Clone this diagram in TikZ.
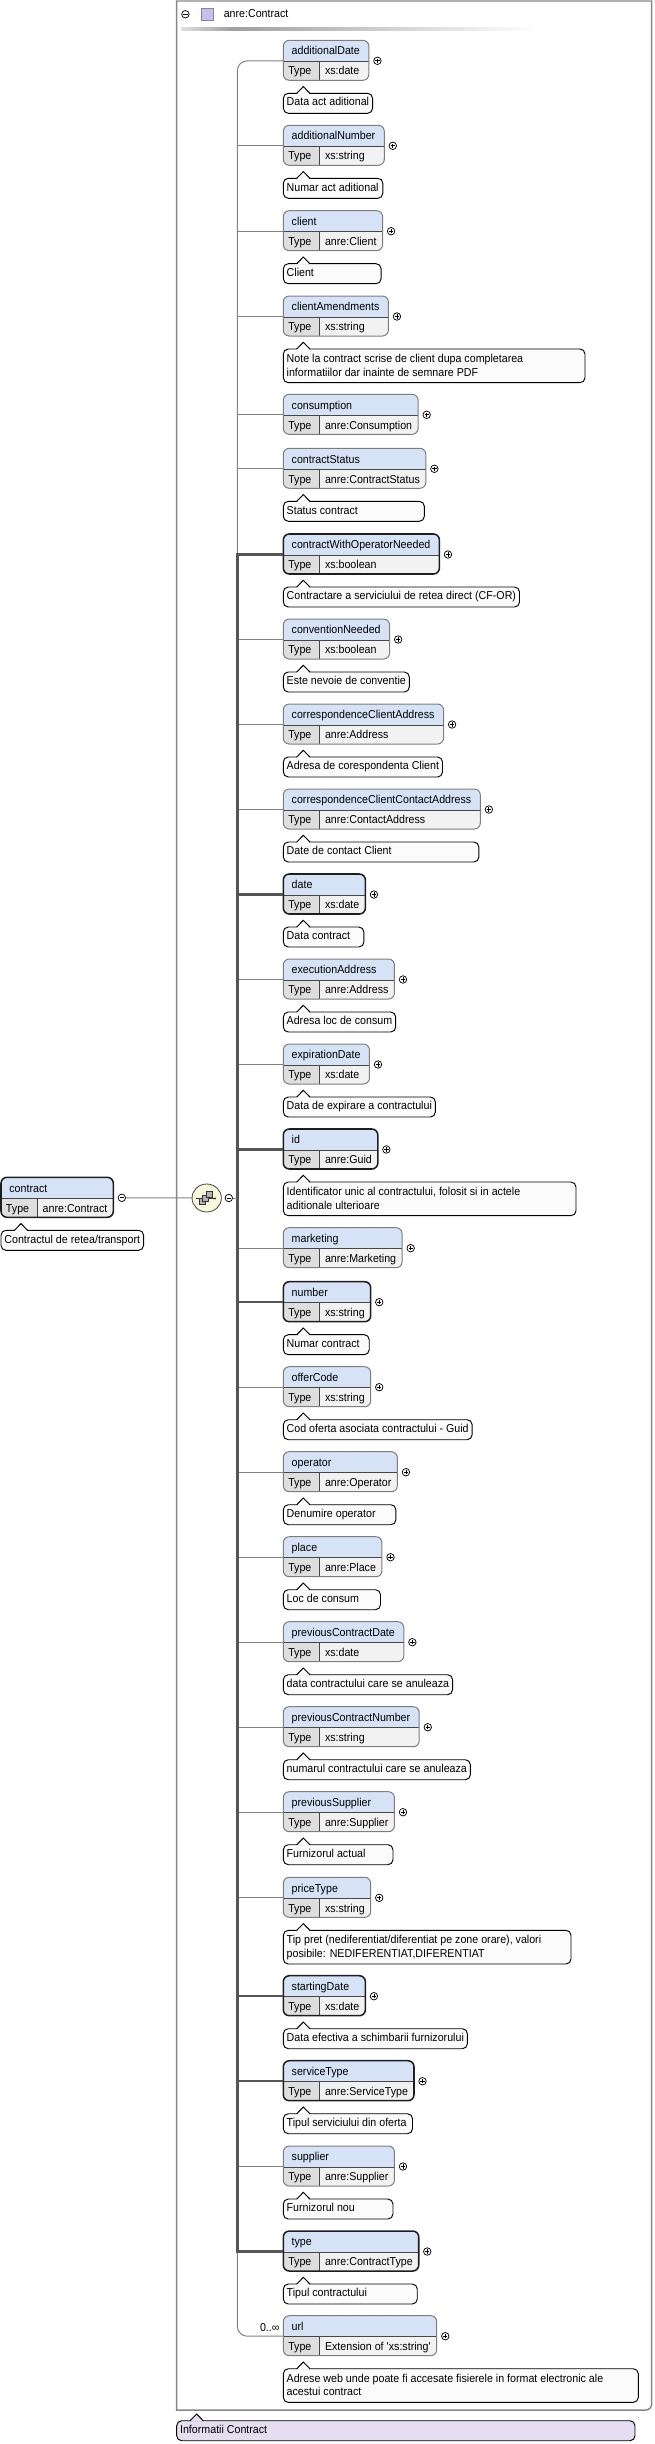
\documentclass[tikz,border=0pt]{standalone}
\usepackage{fontspec}
\setmainfont{Liberation Sans}[FakeStretch=0.93]
\usetikzlibrary{calc,shapes.geometric}
\pgfdeclarelayer{bg}
\pgfsetlayers{bg,main}
\definecolor{hdrc}{RGB}{214,227,247}
\definecolor{typec}{RGB}{222,222,222}
\definecolor{valc}{RGB}{242,242,242}
\definecolor{docc}{RGB}{251,251,251}
\definecolor{optc}{RGB}{125,125,125}
\definecolor{reqc}{RGB}{30,30,30}
\definecolor{sepc}{RGB}{70,70,70}
\definecolor{trunkc}{RGB}{130,130,130}
\definecolor{thickc}{RGB}{85,85,85}
\definecolor{infoc}{RGB}{228,222,240}
\definecolor{seqc}{RGB}{248,248,220}
\definecolor{contc}{RGB}{135,135,135}
\definecolor{sqf}{RGB}{200,190,232}
\definecolor{sqb}{RGB}{140,125,180}
\tikzset{
  txt/.style={inner sep=0pt, outer sep=0pt, anchor=base west, font=\fontsize{8.6}{10}\selectfont},
  optbox/.style={draw=optc, line width=0.75pt},
  reqbox/.style={draw=reqc, line width=1.15pt},
  sepline/.style={draw=sepc, line width=0.6pt},
  docbox/.style={draw=black, line width=0.7pt, rounded corners=3.75pt},
  docline/.style={draw=black, line width=0.7pt},
  thinl/.style={draw=trunkc, line width=0.75pt},
  thickl/.style={draw=thickc, line width=1.9pt},
  pmc/.style={circle, draw=black, fill=white, line width=0.55pt, minimum size=5.6pt, inner sep=0pt},
  plusn/.style={pmc, path picture={\draw[line width=0.55pt] ([xshift=-1.6pt]path picture bounding box.center) -- ([xshift=1.6pt]path picture bounding box.center) ([yshift=-1.6pt]path picture bounding box.center) -- ([yshift=1.6pt]path picture bounding box.center);}},
  minusn/.style={pmc, path picture={\draw[line width=0.55pt] ([xshift=-1.6pt]path picture bounding box.center) -- ([xshift=1.6pt]path picture bounding box.center);}},
  sqi/.style={fill=gray!60, draw=black!80, line width=0.45pt},
}
% element: id, left, top, name, type, box style, circle style
\newcommand{\elem}[7]{%
  \node[txt] (n#1) at (#2+8.4,#3+14.7) {#4};
  \node[txt] (t#1) at (#2+5,#3+34.7) {Type};
  \node[txt] (v#1) at (#2+41.7,#3+34.7) {#5};
  \coordinate (tl#1) at (#2,#3);
  \coordinate (hl#1) at (#2,#3+21);
  \coordinate (bl#1) at (#2,#3+40);
  \coordinate (sp#1) at (#2+36,#3+21);
  \coordinate (c#1) at (#2,#3+20.5);
  \path let \p1=(n#1.east), \p2=(v#1.east) in ({max(\x1+6.75pt,\x2+4.5pt)},0pt) coordinate (r#1);
  \begin{pgfonlayer}{bg}
    \begin{scope}
      \clip[rounded corners=4.5pt] (tl#1) rectangle (r#1 |- bl#1);
      \fill[hdrc] (tl#1) rectangle (r#1 |- hl#1);
      \fill[typec] (hl#1) rectangle (sp#1 |- bl#1);
      \fill[valc] (sp#1) rectangle (r#1 |- bl#1);
    \end{scope}
  \end{pgfonlayer}
  \draw[sepline] (hl#1) -- (r#1 |- hl#1);
  \draw[sepline] (sp#1) -- (sp#1 |- bl#1);
  \draw[#6, rounded corners=4.5pt] (tl#1) rectangle (r#1 |- bl#1);
  \node[#7] (p#1) at ($(r#1 |- c#1)+(6.4pt,0)$) {};
}
% doc shape: id, left, top, fill colour
\newcommand{\docshape}[4]{%
  \begin{pgfonlayer}{bg}
    \draw[docbox, fill=#4] (dt#1) rectangle (dr#1 |- db#1);
    \fill[#4] (#2+13.6,#3+0.8) -- (#2+20,#3-6.2) -- (#2+26.4,#3+0.8) -- cycle;
    \draw[docline] (#2+13.4,#3) -- (#2+20,#3-6.7) -- (#2+26.6,#3);
  \end{pgfonlayer}
}
% one-line doc: id, left, element top, text
\newcommand{\docA}[4]{%
  \node[txt] (d#1) at (#2+3.4,#3+65.7) {#4};
  \path let \p1=(d#1.east), \p2=(r#1) in ({max(\x1+2.6pt,\x2-1.1pt)},0pt) coordinate (dr#1);
  \coordinate (dt#1) at (#2,#3+53);
  \coordinate (db#1) at (#2,#3+73);
  \docshape{#1}{#2}{#3+53}{docc}
}
% two-line doc: id, left, element top, right, line1, line2
\newcommand{\docB}[6]{%
  \node[txt] (d#1) at (#2+3.4,#3+66.3) {#5};
  \node[txt] (e#1) at (#2+3.4,#3+80) {#6};
  \coordinate (dr#1) at (#4,0);
  \coordinate (dt#1) at (#2,#3+53);
  \coordinate (db#1) at (#2,#3+86.7);
  \docshape{#1}{#2}{#3+53}{docc}
}
\begin{document}
\begin{tikzpicture}[x=0.75pt,y=-0.75pt]
\useasboundingbox (0,0) rectangle (654,2444);
% container
\draw[draw=contc, line width=1.1pt] (176.7,2410) -- (176.7,1) -- (651.7,1) -- (651.7,2404) to[out=-90,in=0] (645.7,2410) -- cycle;
\node[minusn] (hm) at (185.4,14.3) {};
\node[draw=sqb, fill=sqf, line width=0.6pt, minimum size=9pt, inner sep=0pt] (hsq) at (207,14.5) {};
\node[txt] (ht) at (223.8,18) {anre:Contract};
\shade[left color=gray!25, right color=gray!75] (181,27.7) rectangle (232,30.3);
\shade[left color=gray!75, right color=white] (232,27.7) rectangle (536,30.3);

% elements
\def\L{283.3}
\elem{1}{\L}{40.3}{additionalDate}{xs:date}{optbox}{plusn}
\docA{1}{\L}{40.3}{Data act aditional}
\elem{2}{\L}{125.3}{additionalNumber}{xs:string}{optbox}{plusn}
\docA{2}{\L}{125.3}{Numar act aditional}
\elem{3}{\L}{210.7}{client}{anre:Client}{optbox}{plusn}
\docA{3}{\L}{210.7}{Client}
\elem{4}{\L}{296}{clientAmendments}{xs:string}{optbox}{plusn}
\docB{4}{\L}{296}{585}{Note la contract scrise de client dupa completarea}{informatiilor dar inainte de semnare PDF}
\elem{5}{\L}{394.3}{consumption}{anre:Consumption}{optbox}{plusn}
\elem{6}{\L}{448.3}{contractStatus}{anre:ContractStatus}{optbox}{plusn}
\docA{6}{\L}{448.3}{Status contract}
\elem{7}{\L}{534}{contractWithOperatorNeeded}{xs:boolean}{reqbox}{plusn}
\docA{7}{\L}{534}{Contractare a serviciului de retea direct (CF-OR)}
\elem{8}{\L}{619}{conventionNeeded}{xs:boolean}{optbox}{plusn}
\docA{8}{\L}{619}{Este nevoie de conventie}
\elem{9}{\L}{704}{correspondenceClientAddress}{anre:Address}{optbox}{plusn}
\docA{9}{\L}{704}{Adresa de corespondenta Client}
\elem{10}{\L}{789}{correspondenceClientContactAddress}{anre:ContactAddress}{optbox}{plusn}
\docA{10}{\L}{789}{Date de contact Client}
\elem{11}{\L}{874}{date}{xs:date}{reqbox}{plusn}
\docA{11}{\L}{874}{Data contract}
\elem{12}{\L}{959}{executionAddress}{anre:Address}{optbox}{plusn}
\docA{12}{\L}{959}{Adresa loc de consum}
\elem{13}{\L}{1044}{expirationDate}{xs:date}{optbox}{plusn}
\docA{13}{\L}{1044}{Data de expirare a contractului}
\elem{14}{\L}{1129}{id}{anre:Guid}{reqbox}{plusn}
\docB{14}{\L}{1129}{576}{Identificator unic al contractului, folosit si in actele}{aditionale ulterioare}
\elem{15}{\L}{1227.7}{marketing}{anre:Marketing}{optbox}{plusn}
\elem{16}{\L}{1281.7}{number}{xs:string}{reqbox}{plusn}
\docA{16}{\L}{1281.7}{Numar contract}
\elem{17}{\L}{1366.7}{offerCode}{xs:string}{optbox}{plusn}
\docA{17}{\L}{1366.7}{Cod oferta asociata contractului - Guid}
\elem{18}{\L}{1451.7}{operator}{anre:Operator}{optbox}{plusn}
\docA{18}{\L}{1451.7}{Denumire operator}
\elem{19}{\L}{1536.7}{place}{anre:Place}{optbox}{plusn}
\docA{19}{\L}{1536.7}{Loc de consum}
\elem{20}{\L}{1621.7}{previousContractDate}{xs:date}{optbox}{plusn}
\docA{20}{\L}{1621.7}{data contractului care se anuleaza}
\elem{21}{\L}{1706.7}{previousContractNumber}{xs:string}{optbox}{plusn}
\docA{21}{\L}{1706.7}{numarul contractului care se anuleaza}
\elem{22}{\L}{1791.7}{previousSupplier}{anre:Supplier}{optbox}{plusn}
\docA{22}{\L}{1791.7}{Furnizorul actual}
\elem{23}{\L}{1877.3}{priceType}{xs:string}{optbox}{plusn}
\docB{23}{\L}{1877.3}{571}{Tip pret (nediferentiat/diferentiat pe zone orare), valori}{posibile: NEDIFERENTIAT,DIFERENTIAT}
\elem{24}{\L}{1975.7}{startingDate}{xs:date}{reqbox}{plusn}
\docA{24}{\L}{1975.7}{Data efectiva a schimbarii furnizorului}
\elem{25}{\L}{2060.7}{serviceType}{anre:ServiceType}{reqbox}{plusn}
\docA{25}{\L}{2060.7}{Tipul serviciului din oferta}
\elem{26}{\L}{2146}{supplier}{anre:Supplier}{optbox}{plusn}
\docA{26}{\L}{2146}{Furnizorul nou}
\elem{27}{\L}{2231}{type}{anre:ContractType}{reqbox}{plusn}
\docA{27}{\L}{2231}{Tipul contractului}
\elem{28}{\L}{2315.7}{url}{Extension of \textquotesingle xs:string\textquotesingle}{optbox}{plusn}
\docB{28}{\L}{2315.7}{638.3}{Adrese web unde poate fi accesate fisierele in format electronic ale}{acestui contract}
\node[txt, anchor=base east] (occ) at (279.5,2331.7) {0..∞};

% compositor
\node[ellipse, draw=black!75, fill=seqc, line width=0.6pt, minimum width=22pt, minimum height=21pt, inner sep=0pt] (seq) at (206.7,1198) {};
\draw[black!80, line width=0.7pt] (196,1198.5) -- (215,1198.5);
\fill[black!80] (215,1198.5) circle (0.9pt);
\filldraw[sqi] (199,1198) rectangle (205,1204);
\filldraw[sqi] (202.5,1195) rectangle (208.5,1201);
\filldraw[sqi] (206,1191.7) rectangle (212,1197.7);
\node[minusn] (seqm) at (228.8,1198) {};
\coordinate (tj) at (237.3,1198);

% trunk and branches
\draw[thinl, rounded corners=7.5pt] (c1) -| (tj |- c28) -- (c28);
\foreach \i in {2,3,4,5,6,8,9,10,12,13,15,17,18,19,20,21,22,23,26} \draw[thinl] (tj |- c\i) -- (c\i);
\draw[thickl] (c7) -| (tj |- c27) -- (c27);
\foreach \i in {11,14,16,24,25} \draw[thickl] (tj |- c\i) -- (c\i);
\draw[thinl] (seqm) -- (tj);

% root element
\elem{k}{1}{1177.3}{contract}{anre:Contract}{reqbox}{minusn}
\docA{k}{1}{1177.3}{Contractul de retea/transport}
\draw[thinl] (pk) -- (seq);

% container annotation
\node[txt] (info) at (180.1,2433.4) {Informatii Contract};
\coordinate (drI) at (635,0);
\coordinate (dtI) at (176.7,2420.7);
\coordinate (dbI) at (176.7,2440.7);
\docshape{I}{176.7}{2420.7}{infoc}
\end{tikzpicture}
\end{document}
